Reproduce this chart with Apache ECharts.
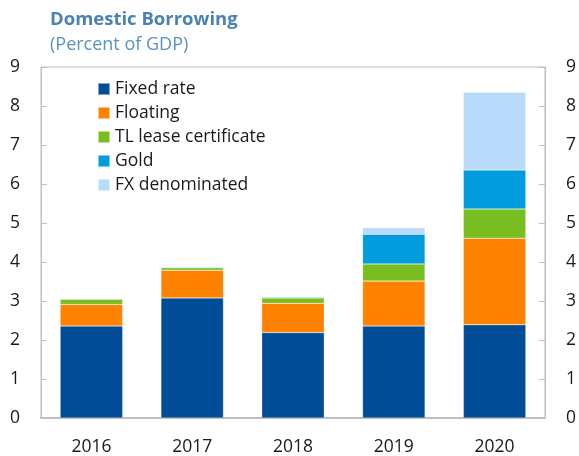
<!DOCTYPE html>
<html><head><meta charset="utf-8">
<script src="https://cdn.jsdelivr.net/npm/echarts@6/dist/echarts.min.js"></script>
<style>html,body{margin:0;padding:0;background:#fff}#c{width:579px;height:456px}</style>
</head><body><div id="c"></div>
<script>
var years = ['2016','2017','2018','2019','2020'];
var fixedRate = [2.36, 3.08, 2.19, 2.36, 2.39];
var floating = [0.55, 0.71, 0.75, 1.15, 2.22];
var tlLease = [0.14, 0.06, 0.14, 0.44, 0.75];
var gold = [0, 0.02, 0.02, 0.76, 1.00];
var fxDenominated = [0, 0, 0, 0.17, 1.99];
var yTicks = [0,1,2,3,4,5,6,7,8,9];

var names = ['Fixed rate','Floating','TL lease certificate','Gold','FX denominated'];
var colors = ['#004C97','#FF8200','#78BE20','#009CDE','#B8DBFA'];
var vals = [fixedRate, floating, tlLease, gold, fxDenominated];
var font = '"Open Sans", "Noto Sans", sans-serif';

var chart = echarts.init(document.getElementById('c'), null, {renderer:'canvas'});
var ylab = function(m){ return {fontSize:17.5, color:'#1a1a1a', margin:m, fontFamily:font,
  formatter:function(v){return yTicks.indexOf(v)>=0?String(v):'';}}; };
chart.setOption({
  animation:false,
  textStyle:{fontFamily:font},
  title:[
    {text:'Domestic Borrowing', left:45, top:5, textStyle:{fontFamily:font, fontSize:18.5, fontWeight:'bold', color:'#4A82B4'}},
    {text:'(Percent of GDP)', left:45, top:31, textStyle:{fontFamily:font, fontSize:18, fontWeight:'normal', color:'#5A92C4'}}
  ],
  legend:{
    orient:'vertical', left:92, top:75, itemWidth:12, itemHeight:12, itemGap:6,
    icon:'rect',
    textStyle:{fontFamily:font, fontSize:17.5, color:'#1a1a1a'},
    data:names
  },
  grid:{left:41, right:32, top:67, bottom:37, show:true, borderColor:'#bfbfbf', borderWidth:1},
  xAxis:{
    type:'category', data:years,
    axisLine:{lineStyle:{color:'#bfbfbf', width:2}},
    axisTick:{inside:true, length:6, lineStyle:{color:'#bfbfbf'}},
    axisLabel:{fontSize:17.5, color:'#1a1a1a', margin:20, fontFamily:font}
  },
  yAxis:[
    {type:'value', min:0, max:9, interval:1, position:'left',
     axisLine:{show:true, lineStyle:{color:'#bfbfbf'}},
     axisTick:{show:true, inside:true, length:6, lineStyle:{color:'#bfbfbf'}},
     splitLine:{show:false}, axisLabel:ylab(21)},
    {type:'value', min:0, max:9, interval:1, position:'right',
     axisLine:{show:true, lineStyle:{color:'#bfbfbf'}},
     axisTick:{show:true, inside:true, length:6, lineStyle:{color:'#bfbfbf'}},
     splitLine:{show:false}, axisLabel:ylab(21)}
  ],
  series: names.map(function(n,i){
    return {name:n, type:'bar', stack:'a', data:vals[i], barWidth:'62%',
      itemStyle:{color:colors[i], borderColor:'rgba(255,255,255,0.5)', borderWidth:0.5}};
  })
});
</script></body></html>
